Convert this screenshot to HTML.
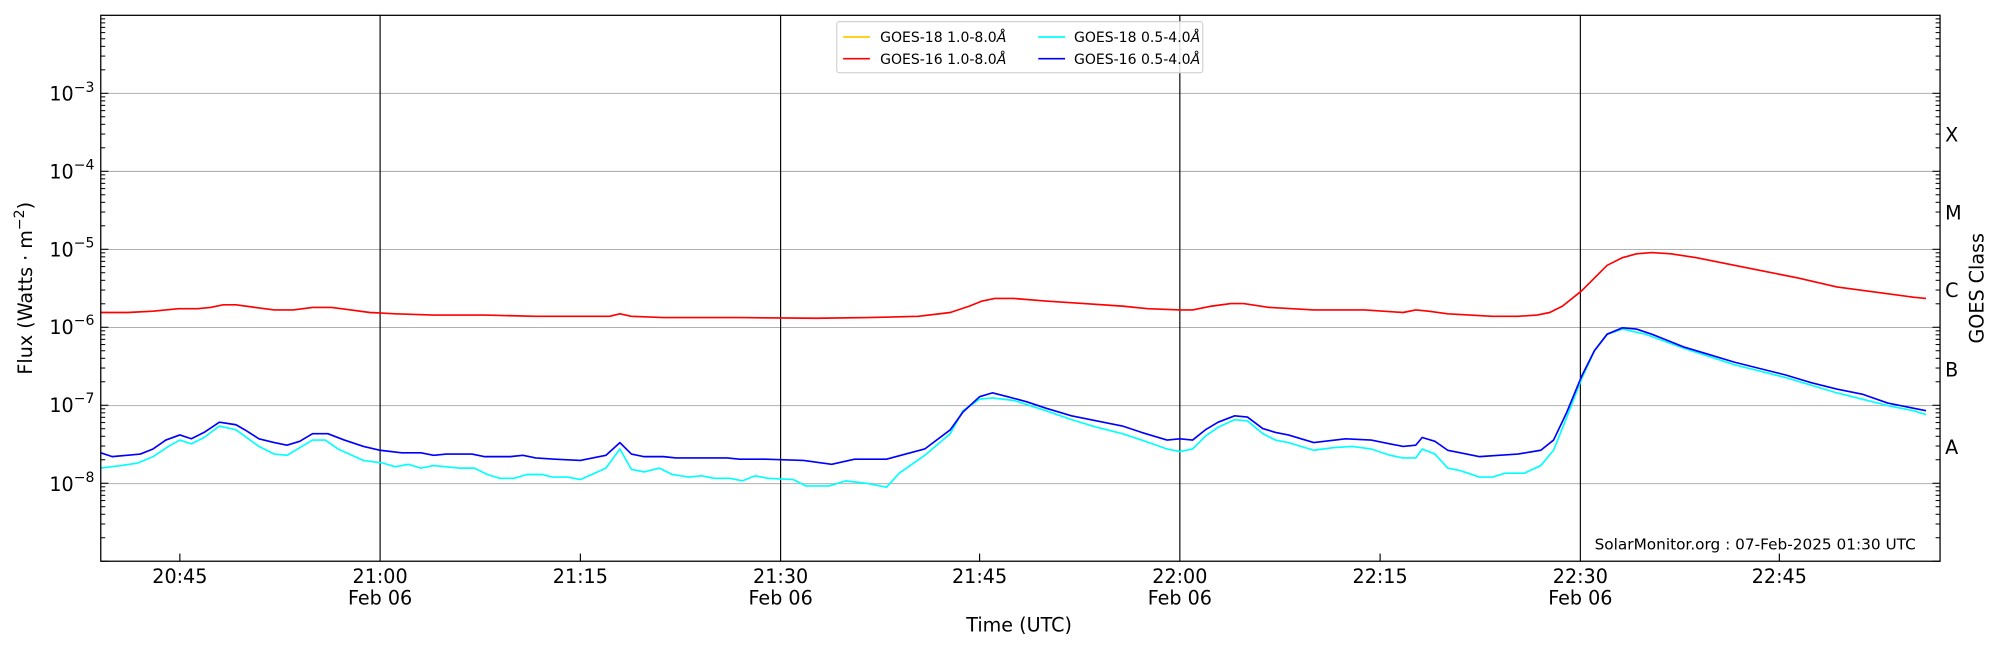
<!DOCTYPE html>
<html><head><meta charset="utf-8"><style>
html,body{margin:0;padding:0;background:#fff;}
svg{display:block;font-family:"DejaVu Sans","Liberation Sans",sans-serif;}
</style></head><body>
<svg width="2000" height="650" viewBox="0 0 1568 509.6" xmlns="http://www.w3.org/2000/svg">
<rect width="1568" height="509.6" fill="#fff"/>
<g stroke="#b0b0b0" stroke-width="0.8">
<line x1="79" x2="1521" y1="73.2" y2="73.2"/><line x1="79" x2="1521" y1="134.4" y2="134.4"/>
<line x1="79" x2="1521" y1="195.6" y2="195.6"/><line x1="79" x2="1521" y1="256.8" y2="256.8"/>
<line x1="79" x2="1521" y1="318" y2="318"/><line x1="79" x2="1521" y1="379.2" y2="379.2"/>
</g>
<g stroke="#000" stroke-width="0.9">
<line x1="298" x2="298" y1="12" y2="440"/><line x1="612" x2="612" y1="12" y2="440"/>
<line x1="925" x2="925" y1="12" y2="440"/><line x1="1239" x2="1239" y1="12" y2="440"/>
</g>
<g id="yt" stroke="#000" stroke-width="0.8"></g>
<g fill="none" stroke-width="1.3" stroke-linejoin="round">
<polyline stroke="#00ffff" points="79,367 95,365 108,363 120,358 132,350 141,345 150,348 160,343 172,334 185,337 203,350 215,356 225,357 235,351 245,345 255,345 265,352 285,361 300,363 310,366 320,364 330,367 340,365 360,367 372,367 382,372 392,375 403,375 413,372 425,372 433,374 445,374 455,376 475,367 486,352 495,368 505,370 517,367 527,372 540,374 550,373 560,375 572,375 582,377 592,373 602,375 622,376 632,381 650,381 663,377 680,379 695,382 705,371 725,357 745,340 755,322 768,313 778,312 795,314 820,322 840,329 860,335 880,340 895,345 915,352 925,354 935,352 945,342 955,335 968,329 978,330 990,340 1000,345 1010,347 1030,353 1045,351 1060,350 1075,352 1090,357 1100,359 1110,359 1115,352 1125,356 1135,367 1145,369 1160,374 1170,374 1180,371 1195,371 1208,365 1218,353 1228,328 1240,297 1250,275 1260,262 1272,258 1290,262 1320,273 1360,286 1400,296 1440,308 1480,318 1500,322 1510,325"/>
<polyline stroke="#0000ff" points="79,355 88,358 110,356 120,352 130,345 141,341 150,344 160,339 172,331 185,333 192,337 203,344 215,347 225,349 235,346 245,340 257,340 270,345 285,350 298,353 315,355 330,355 340,357 350,356 370,356 380,358 400,358 410,357 420,359 435,360 455,361 475,357 486,347 495,356 505,358 520,358 530,359 550,359 570,359 580,360 600,360 630,361 652,364 670,360 695,360 725,352 745,337 755,323 768,311 778,308 790,311 805,315 820,320 840,326 860,330 880,334 895,339 915,345 925,344 935,345 945,337 955,331 968,326 978,327 990,336 1000,339 1010,341 1030,347 1055,344 1075,345 1090,348 1100,350 1110,349 1115,343 1125,346 1135,353 1145,355 1160,358 1175,357 1190,356 1208,353 1218,345 1228,324 1240,295 1250,275 1260,262 1272,257 1283,258 1295,262 1305,266 1320,272 1340,278 1360,284 1380,289 1400,294 1420,300 1440,305 1460,309 1480,316 1500,320 1510,322"/>
<polyline stroke="#ff0000" points="79,245 100,245 120,244 140,242 155,242 165,241 175,239 185,239 200,241 215,243 230,243 245,241 260,241 275,243 290,245 310,246 340,247 380,247 420,248 460,248 478,248 486,246 495,248 520,249 580,249 640,249.5 680,249 720,248 745,245 760,240 770,236 780,234 795,234 820,236 850,238 880,240 900,242 925,243 935,243 950,240 965,238 975,238 995,241 1030,243 1070,243 1100,245 1110,243 1120,244 1135,246 1170,248 1190,248 1205,247 1215,245 1225,240 1240,228 1250,218 1260,208 1272,202 1283,199 1295,198 1310,199 1330,202 1350,206 1380,212 1410,218 1440,225 1470,229 1500,233 1510,234"/>
</g>
<rect x="79" y="12" width="1442" height="428" fill="none" stroke="#000" stroke-width="1"/>
<g stroke="#000" stroke-width="0.9">
<line x1="141" x2="141" y1="440" y2="434"/><line x1="455" x2="455" y1="440" y2="434"/>
<line x1="768" x2="768" y1="440" y2="434"/><line x1="1082" x2="1082" y1="440" y2="434"/>
<line x1="1395" x2="1395" y1="440" y2="434"/>
</g>
<g font-size="15" text-anchor="middle" fill="#000">
<text x="141" y="457">20:45</text><text x="298" y="457">21:00</text><text x="455" y="457">21:15</text>
<text x="612" y="457">21:30</text><text x="768" y="457">21:45</text><text x="925" y="457">22:00</text>
<text x="1082" y="457">22:15</text><text x="1239" y="457">22:30</text><text x="1395" y="457">22:45</text>
<text x="298" y="474">Feb 06</text><text x="612" y="474">Feb 06</text><text x="925" y="474">Feb 06</text><text x="1239" y="474">Feb 06</text>
<text x="799" y="495">Time (UTC)</text>
</g>
<g font-size="15" text-anchor="end" fill="#000">
<text x="74" y="79">10<tspan dy="-7" font-size="11">−3</tspan></text>
<text x="74" y="140">10<tspan dy="-7" font-size="11">−4</tspan></text>
<text x="74" y="201">10<tspan dy="-7" font-size="11">−5</tspan></text>
<text x="74" y="262">10<tspan dy="-7" font-size="11">−6</tspan></text>
<text x="74" y="323">10<tspan dy="-7" font-size="11">−7</tspan></text>
<text x="74" y="385">10<tspan dy="-7" font-size="11">−8</tspan></text>
</g>
<text transform="translate(25,226) rotate(-90)" font-size="15" text-anchor="middle">Flux (Watts · m<tspan dy="-6" font-size="11">−2</tspan><tspan dy="6">)</tspan></text>
<g font-size="15" fill="#000">
<text x="1525" y="111">X</text><text x="1525" y="172">M</text><text x="1525" y="233">C</text>
<text x="1525" y="295">B</text><text x="1525" y="356">A</text>
</g>
<text transform="translate(1555,226) rotate(-90)" font-size="15" text-anchor="middle">GOES Class</text>
<text x="1502" y="431" font-size="12" text-anchor="end">SolarMonitor.org : 07-Feb-2025 01:30 UTC</text>
<rect x="656" y="17" width="287" height="40" rx="2" fill="#fff" fill-opacity="0.85" stroke="#ccc" stroke-width="0.8"/>
<g stroke-width="1.3">
<line x1="661" x2="682" y1="29" y2="29" stroke="#ffcc00"/>
<line x1="661" x2="682" y1="46" y2="46" stroke="#ff0000"/>
<line x1="814" x2="835" y1="29" y2="29" stroke="#00ffff"/>
<line x1="814" x2="835" y1="46" y2="46" stroke="#0000ff"/>
</g>
<g font-size="11" fill="#000">
<text x="690" y="33">GOES-18 1.0-8.0<tspan font-style="italic">Å</tspan></text>
<text x="690" y="50">GOES-16 1.0-8.0<tspan font-style="italic">Å</tspan></text>
<text x="842" y="33">GOES-18 0.5-4.0<tspan font-style="italic">Å</tspan></text>
<text x="842" y="50">GOES-16 0.5-4.0<tspan font-style="italic">Å</tspan></text>
</g>
</svg>
<script>
(function(){
var g=document.getElementById('yt'),s='',d=61.143;
for(var e=0;e<7;e++){for(var k=1;k<10;k++){var y=440-(e+Math.log10(k))*d;if(y<12)continue;var L=k==1?6:3.5;
s+='<line x1="79" x2="'+(79+L)+'" y1="'+y+'" y2="'+y+'"/><line x1="'+(1521-L)+'" x2="1521" y1="'+y+'" y2="'+y+'"/>';}}
g.innerHTML=s;})();
</script>
</body></html>
